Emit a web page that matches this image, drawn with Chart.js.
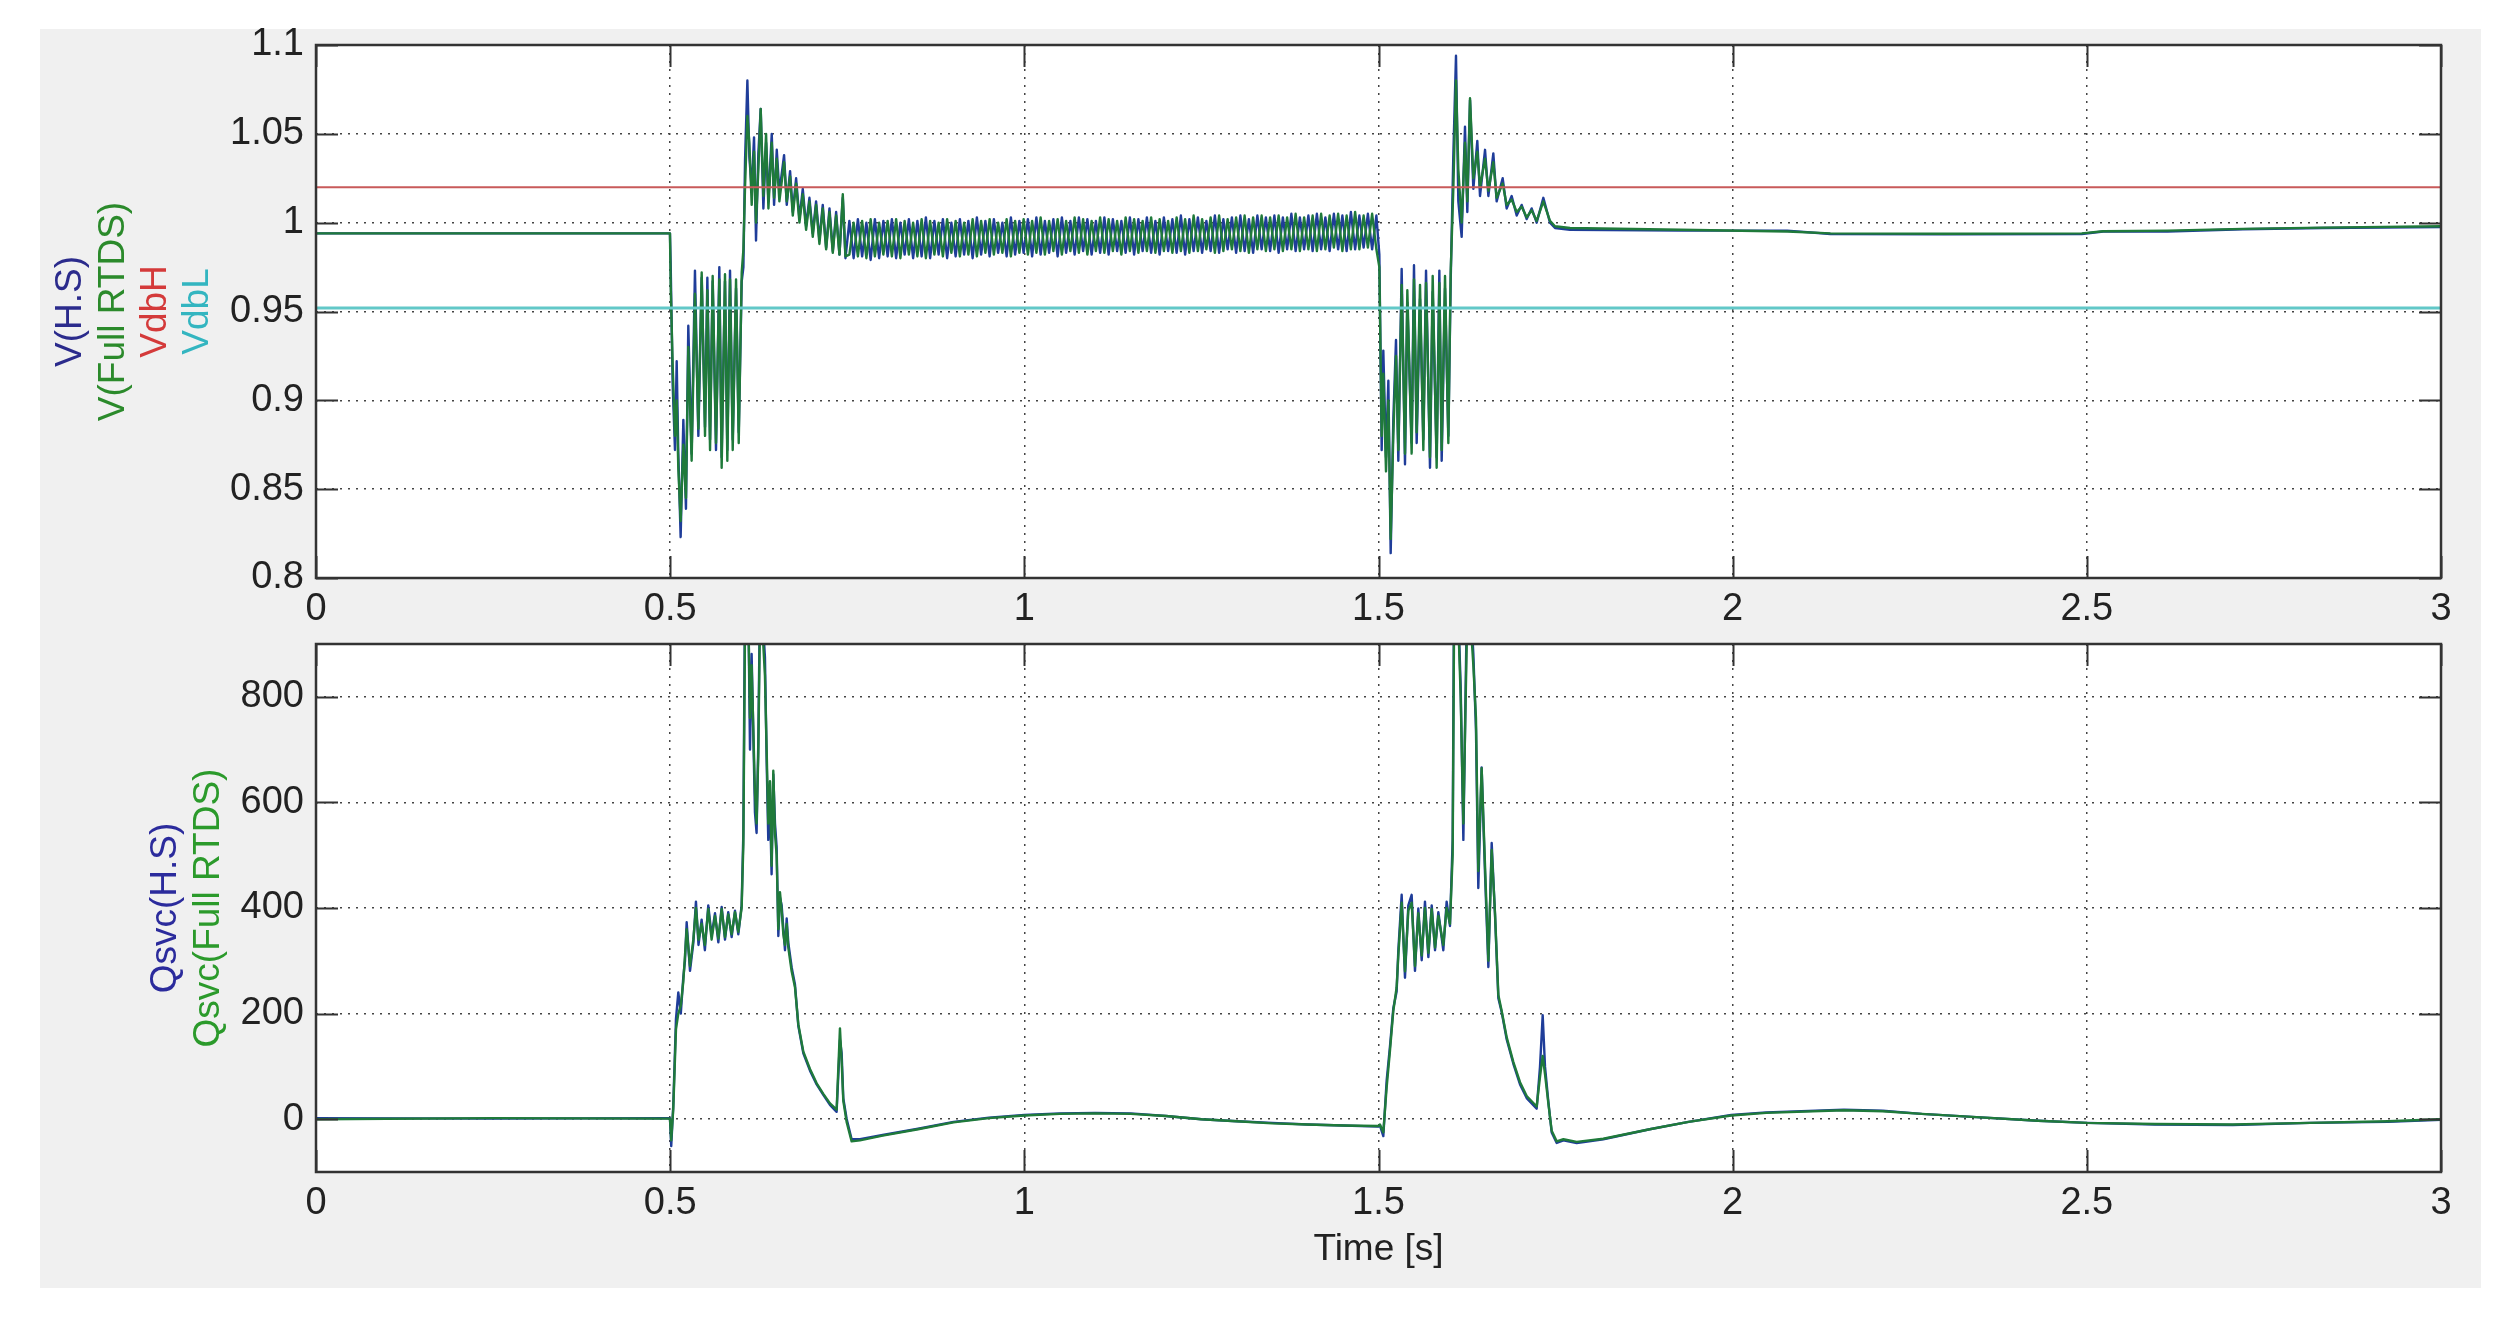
<!DOCTYPE html>
<html><head><meta charset="utf-8">
<script src="https://cdn.jsdelivr.net/npm/chart.js@4.4.1/dist/chart.umd.min.js"></script>
<style>
html,body{margin:0;padding:0;background:#fff;width:2518px;height:1317px;overflow:hidden;}
#panel{position:absolute;left:40px;top:29px;width:2441px;height:1259px;background:#f0f0f0;}
#c1{position:absolute;left:0;top:0;}
#c2{position:absolute;left:0;top:590px;}
</style></head><body>
<div id="panel"></div>
<canvas id="c1" width="2518" height="625"></canvas>
<canvas id="c2" width="2518" height="727"></canvas>
<script>
// ---------------- DATA ----------------
const xTickValues = [0, 0.5, 1, 1.5, 2, 2.5, 3];
const xTickLabels = ['0', '0.5', '1', '1.5', '2', '2.5', '3'];
const vTickValues = [0.8, 0.85, 0.9, 0.95, 1, 1.05, 1.1];
const vTickLabels = ['0.8', '0.85', '0.9', '0.95', '1', '1.05', '1.1'];
const qTickValues = [0, 200, 400, 600, 800];
const qTickLabels = ['0', '200', '400', '600', '800'];
const topAxisTitles = ['V(H.S)', 'V(Full RTDS)', 'VdbH', 'VdbL'];
const bottomAxisTitles = ['Qsvc(H.S)', 'Qsvc(Full RTDS)'];
const xAxisTitle = 'Time [s]';

const VdbH = 1.02;
const VdbL = 0.952;

// Voltage: pre-fault, first fault, first recovery
const timeVa = [0, 0.25, 0.4997, 0.5007, 0.5035, 0.5068, 0.5092, 0.5115, 0.5148, 0.5186,
  0.5223, 0.5256, 0.5303, 0.535, 0.5398, 0.5445, 0.5492, 0.5525, 0.5563, 0.56,
  0.5647, 0.5694, 0.5727, 0.5774, 0.5807, 0.5845, 0.5883, 0.593, 0.5968, 0.601,
  0.6034, 0.6057, 0.609, 0.6118, 0.6151, 0.6184, 0.6212, 0.6245, 0.6278, 0.6316,
  0.6354, 0.6387, 0.6434, 0.6467, 0.6505, 0.6542, 0.6608, 0.6646, 0.6693, 0.6731,
  0.6778, 0.6825, 0.6872, 0.6919, 0.6966, 0.7013, 0.706, 0.7107, 0.7154, 0.7202,
  0.7249, 0.7296, 0.7343, 0.739, 0.7437, 0.7475];
const hsVa = [0.994, 0.994, 0.994, 0.977, 0.909, 0.872, 0.922, 0.870, 0.823, 0.889,
  0.839, 0.942, 0.870, 0.973, 0.880, 0.969, 0.885, 0.969, 0.878, 0.967,
  0.872, 0.975, 0.868, 0.967, 0.872, 0.973, 0.878, 0.963, 0.882, 0.967,
  0.975, 1.035, 1.080, 1.037, 1.019, 1.048, 0.990, 1.039, 1.064, 1.008,
  1.045, 1.012, 1.050, 1.010, 1.041, 1.017, 1.038, 1.010, 1.029, 1.006,
  1.025, 1.002, 1.019, 0.998, 1.014, 0.994, 1.012, 0.990, 1.010, 0.986,
  1.008, 0.984, 1.006, 0.982, 1.014, 0.980];
const rtdsVa = [0.994, 0.994, 0.994, 0.965, 0.920, 0.880, 0.900, 0.862, 0.832, 0.875,
  0.845, 0.930, 0.866, 0.960, 0.884, 0.972, 0.880, 0.962, 0.872, 0.970,
  0.876, 0.968, 0.862, 0.971, 0.866, 0.968, 0.872, 0.968, 0.876, 0.972,
  0.985, 1.020, 1.060, 1.045, 1.010, 1.040, 1.000, 1.030, 1.064, 1.015,
  1.050, 1.008, 1.045, 1.014, 1.036, 1.012, 1.034, 1.012, 1.026, 1.004,
  1.022, 1.000, 1.016, 0.996, 1.012, 0.992, 1.010, 0.988, 1.008, 0.985,
  1.006, 0.983, 1.004, 0.982, 1.016, 0.981];

// Voltage: sustained oscillation band 0.75 - 1.5 s
const timeVb = [0.753, 0.759, 0.765, 0.771, 0.777, 0.783, 0.789, 0.795, 0.801, 0.807,
  0.813, 0.819, 0.825, 0.831, 0.837, 0.843, 0.849, 0.855, 0.861, 0.867,
  0.873, 0.879, 0.885, 0.891, 0.897, 0.903, 0.909, 0.915, 0.921, 0.927,
  0.933, 0.939, 0.945, 0.951, 0.957, 0.963, 0.969, 0.975, 0.981, 0.987,
  0.993, 0.999, 1.005, 1.011, 1.017, 1.023, 1.029, 1.035, 1.041, 1.047,
  1.053, 1.059, 1.065, 1.071, 1.077, 1.083, 1.089, 1.095, 1.101, 1.107,
  1.113, 1.119, 1.125, 1.131, 1.137, 1.143, 1.149, 1.155, 1.161, 1.167,
  1.173, 1.179, 1.185, 1.191, 1.197, 1.203, 1.209, 1.215, 1.221, 1.227,
  1.233, 1.239, 1.245, 1.251, 1.257, 1.263, 1.269, 1.275, 1.281, 1.287,
  1.293, 1.299, 1.305, 1.311, 1.317, 1.323, 1.329, 1.335, 1.341, 1.347,
  1.353, 1.359, 1.365, 1.371, 1.377, 1.383, 1.389, 1.395, 1.401, 1.407,
  1.413, 1.419, 1.425, 1.431, 1.437, 1.443, 1.449, 1.455, 1.461, 1.467,
  1.473, 1.479, 1.485, 1.491, 1.497];
const hsVb = [1.001, 0.980, 1.002, 0.981, 1.000, 0.979, 1.002, 0.980, 1.001, 0.981,
  1.002, 0.980, 1.000, 0.982, 1.002, 0.980, 1.001, 0.981, 1.003, 0.980,
  1.001, 0.982, 1.002, 0.980, 1.000, 0.981, 1.002, 0.982, 1.001, 0.980,
  1.003, 0.982, 1.001, 0.981, 1.002, 0.983, 1.000, 0.981, 1.003, 0.982,
  1.001, 0.983, 1.002, 0.981, 1.003, 0.982, 1.001, 0.983, 1.002, 0.981,
  1.003, 0.983, 1.001, 0.982, 1.003, 0.984, 1.002, 0.982, 1.001, 0.983,
  1.003, 0.982, 1.002, 0.984, 1.001, 0.983, 1.003, 0.982, 1.002, 0.984,
  1.003, 0.983, 1.001, 0.982, 1.003, 0.984, 1.002, 0.983, 1.004, 0.982,
  1.002, 0.984, 1.003, 0.983, 1.001, 0.984, 1.004, 0.983, 1.002, 0.985,
  1.003, 0.983, 1.004, 0.984, 1.002, 0.983, 1.004, 0.985, 1.003, 0.984,
  1.004, 0.983, 1.003, 0.985, 1.005, 0.984, 1.003, 0.985, 1.004, 0.984,
  1.005, 0.985, 1.003, 0.984, 1.005, 0.985, 1.004, 0.984, 1.006, 0.985,
  1.004, 0.986, 1.005, 0.985, 1.004];
const rtdsVb = [0.982, 1.000, 0.981, 1.001, 0.980, 1.002, 0.981, 1.000, 0.982, 1.001,
  0.981, 1.002, 0.980, 1.001, 0.982, 1.000, 0.981, 1.002, 0.980, 1.001,
  0.982, 1.000, 0.981, 1.002, 0.983, 1.001, 0.981, 1.000, 0.982, 1.002,
  0.981, 1.001, 0.983, 1.002, 0.982, 1.000, 0.983, 1.002, 0.981, 1.001,
  0.983, 1.002, 0.982, 1.001, 0.983, 1.003, 0.982, 1.001, 0.984, 1.002,
  0.982, 1.001, 0.984, 1.003, 0.983, 1.002, 0.982, 1.001, 0.984, 1.003,
  0.983, 1.002, 0.984, 1.001, 0.982, 1.003, 0.984, 1.002, 0.983, 1.001,
  0.984, 1.003, 0.983, 1.002, 0.984, 1.001, 0.983, 1.003, 0.984, 1.002,
  0.983, 1.004, 0.984, 1.002, 0.985, 1.003, 0.983, 1.004, 0.984, 1.002,
  0.985, 1.003, 0.984, 1.004, 0.983, 1.003, 0.985, 1.004, 0.984, 1.003,
  0.985, 1.004, 0.984, 1.003, 0.985, 1.005, 0.984, 1.003, 0.985, 1.004,
  0.984, 1.005, 0.985, 1.004, 0.986, 1.005, 0.984, 1.004, 0.985, 1.006,
  0.985, 1.004, 0.986, 1.005, 0.985];

// Voltage: second fault, recovery, steady tail
const timeVc = [1.5012, 1.5045, 1.5068, 1.5106, 1.5139, 1.5172, 1.5209, 1.5247, 1.528, 1.5327,
  1.5374, 1.5407, 1.5468, 1.5501, 1.5539, 1.5586, 1.5633, 1.5671, 1.5727, 1.5765,
  1.5821, 1.5859, 1.5892, 1.5939, 1.5986, 1.6019, 1.6057, 1.6094, 1.6127, 1.6174,
  1.6221, 1.6254, 1.6292, 1.6339, 1.6395, 1.6433, 1.6504, 1.6551, 1.6621, 1.6668,
  1.6753, 1.6809, 1.688, 1.6951, 1.7021, 1.7092, 1.7162, 1.7233, 1.7327, 1.7421,
  1.7492, 1.7704, 1.926, 2.077, 2.138, 2.30, 2.493, 2.523, 2.614, 2.72,
  2.833, 3.0];
const hsVc = [0.982, 0.872, 0.928, 0.868, 0.911, 0.814, 0.889, 0.934, 0.866, 0.974,
  0.864, 0.955, 0.876, 0.976, 0.876, 0.957, 0.878, 0.973, 0.862, 0.961,
  0.868, 0.973, 0.866, 0.963, 0.880, 0.967, 1.039, 1.094, 1.012, 0.992,
  1.054, 1.006, 1.069, 1.019, 1.046, 1.015, 1.041, 1.015, 1.039, 1.012,
  1.025, 1.008, 1.015, 1.004, 1.010, 1.002, 1.008, 1.000, 1.014, 1.000,
  0.997, 0.996, 0.9955, 0.9955, 0.9936, 0.9934, 0.9936, 0.995, 0.995, 0.9963,
  0.997, 0.9975];
const rtdsVc = [0.975, 0.880, 0.915, 0.860, 0.900, 0.822, 0.880, 0.925, 0.872, 0.965,
  0.870, 0.962, 0.870, 0.968, 0.882, 0.965, 0.872, 0.966, 0.868, 0.970,
  0.862, 0.966, 0.872, 0.970, 0.876, 0.972, 1.020, 1.080, 1.030, 1.000,
  1.045, 1.012, 1.070, 1.025, 1.040, 1.020, 1.036, 1.018, 1.034, 1.014,
  1.022, 1.010, 1.013, 1.006, 1.009, 1.003, 1.007, 1.001, 1.012, 1.001,
  0.998, 0.997, 0.996, 0.995, 0.994, 0.9938, 0.994, 0.9952, 0.9955, 0.9965,
  0.9972, 0.998];

// Reactive power: pre-fault, first event, slow swing
const timeQa = [0, 0.25, 0.4997, 0.5015, 0.5044, 0.5082, 0.5115, 0.515, 0.5185, 0.5209,
  0.5233, 0.528, 0.5327, 0.5364, 0.54, 0.5444, 0.549, 0.5538, 0.5585, 0.5633,
  0.568, 0.5727, 0.5774, 0.582, 0.5868, 0.5915, 0.5962, 0.6009, 0.6033, 0.6056,
  0.608, 0.6103, 0.6127, 0.615, 0.6197, 0.622, 0.6244, 0.6267, 0.6291, 0.6314,
  0.6338, 0.6362, 0.6385, 0.6409, 0.6432, 0.6456, 0.648, 0.6503, 0.6527, 0.655,
  0.6574, 0.6598, 0.6621, 0.6645, 0.6668, 0.6715, 0.6762, 0.6809, 0.688, 0.6974,
  0.7068, 0.7162, 0.7256, 0.735, 0.7397, 0.7421, 0.7444, 0.7491, 0.7562, 0.768,
  0.8, 0.85, 0.9, 0.95, 1.0, 1.05, 1.1, 1.15, 1.2, 1.25,
  1.3, 1.35, 1.4, 1.45, 1.4995];
const hsQa = [2, 1, 2, -51, 27, 190, 240, 200, 268, 300,
  373, 281, 334, 412, 330, 378, 320, 405, 347, 390,
  335, 402, 340, 392, 345, 395, 350, 405, 542, 980,
  1050, 980, 700, 881, 581, 542, 712, 980, 1020, 930,
  875, 679, 529, 600, 464, 653, 560, 516, 347, 420,
  405, 360, 320, 380, 334, 288, 255, 177, 125, 92,
  66, 46, 27, 14, 150, 125, 40, 1, -38, -38,
  -30, -18, -5, 3, 8, 11, 12, 11, 6, 0,
  -4, -7, -10, -12, -14];
const rtdsQa = [0, 2, 1, -40, 20, 170, 200, 215, 260, 310,
  360, 290, 340, 400, 340, 370, 330, 398, 340, 385,
  342, 398, 345, 388, 350, 392, 355, 400, 520, 920,
  1000, 960, 760, 860, 620, 560, 690, 940, 1000, 900,
  840, 700, 560, 640, 480, 660, 540, 500, 360, 430,
  395, 350, 330, 370, 325, 280, 250, 180, 128, 95,
  68, 48, 30, 18, 172, 110, 35, -5, -42, -40,
  -31, -19, -6, 2, 7, 10, 11, 10, 6, 0,
  -4, -8, -10, -12, -13];

// Reactive power: second event and tail
const timeQb = [1.5021, 1.5068, 1.5115, 1.5162, 1.5209, 1.5256, 1.528, 1.5327, 1.5374, 1.5421,
  1.5468, 1.5515, 1.5562, 1.561, 1.5656, 1.5704, 1.5751, 1.5798, 1.5845, 1.5915,
  1.5962, 1.6009, 1.6047, 1.6066, 1.61, 1.6127, 1.616, 1.6198, 1.6245, 1.6292,
  1.6339, 1.6376, 1.6409, 1.6456, 1.6504, 1.6551, 1.6598, 1.6645, 1.6692, 1.6739,
  1.681, 1.6904, 1.6998, 1.7092, 1.7233, 1.728, 1.7318, 1.7351, 1.7398, 1.7445,
  1.7516, 1.761, 1.7798, 1.8174, 1.8829, 1.9377, 1.998, 2.0474, 2.157, 2.212,
  2.267, 2.344, 2.431, 2.5005, 2.596, 2.706, 2.815, 2.925, 3.0];
const hsQb = [-12, -32, 73, 138, 210, 242, 320, 425, 268, 405,
  425, 281, 399, 301, 412, 307, 405, 320, 392, 320,
  412, 366, 529, 980, 1060, 960, 820, 529, 950, 1000,
  881, 738, 438, 666, 464, 288, 523, 386, 229, 203,
  151, 105, 66, 40, 20, 99, 197, 99, 33, -25,
  -45, -40, -45, -38, -19, -5, 8, 13, 18, 16,
  10, 4, -3, -7, -10, -11, -7, -5, -1];
const rtdsQb = [-10, -25, 60, 130, 205, 250, 310, 410, 280, 395,
  410, 290, 390, 310, 400, 315, 398, 325, 385, 330,
  400, 370, 500, 920, 1000, 940, 800, 560, 900, 960,
  860, 760, 470, 665, 480, 300, 510, 390, 235, 205,
  155, 108, 70, 44, 24, 80, 120, 85, 30, -22,
  -42, -38, -43, -37, -19, -5, 7, 12, 17, 15,
  10, 4, -3, -7, -9, -10, -7, -4, 0];

// ---------------- HELPERS ----------------
function pairs(times, values) {
  const n = Math.min(times.length, values.length);
  const out = [];
  for (let i = 0; i < n; i++) out.push({ x: times[i], y: values[i] });
  return out;
}
const FONT = '"Liberation Sans", Arial, sans-serif';
const COL_HS = '#1f3d99';
const COL_RTDS = '#1f7a3a';

const framePlugin = {
  id: 'frame',
  beforeDraw(chart) {
    const { ctx, chartArea: a } = chart;
    ctx.save();
    ctx.fillStyle = '#ffffff';
    ctx.fillRect(a.left, a.top, a.right - a.left, a.bottom - a.top);
    ctx.restore();
  },
  afterDraw(chart, args, o) {
    const { ctx, chartArea: a, scales } = chart;
    const x = scales.x, y = scales.y;
    ctx.save();
    ctx.strokeStyle = '#333333';
    ctx.lineWidth = 2;
    const L = 22;
    ctx.beginPath();
    y.ticks.forEach(t => {
      const py = Math.round(y.getPixelForValue(t.value)) + 0.5;
      ctx.moveTo(a.left, py); ctx.lineTo(a.left + L, py);
      ctx.moveTo(a.right, py); ctx.lineTo(a.right - L, py);
    });
    x.ticks.forEach(t => {
      const px = Math.round(x.getPixelForValue(t.value)) + 0.5;
      ctx.moveTo(px, a.bottom); ctx.lineTo(px, a.bottom - L);
      ctx.moveTo(px, a.top); ctx.lineTo(px, a.top + L);
    });
    ctx.stroke();
    ctx.lineWidth = 2.5;
    ctx.strokeRect(a.left, a.top, a.right - a.left, a.bottom - a.top);
    // multi-coloured rotated y-axis titles
    const cy = (a.top + a.bottom) / 2;
    ctx.font = '37px ' + FONT;
    ctx.textAlign = 'center';
    ctx.textBaseline = 'middle';
    (o.titles || []).forEach(tl => {
      ctx.save();
      ctx.translate(tl.x, cy + (tl.dy || 0));
      ctx.rotate(-Math.PI / 2);
      ctx.fillStyle = tl.color;
      ctx.fillText(tl.text, 0, 0);
      ctx.restore();
    });
    if (o.xTitle) {
      ctx.fillStyle = '#222222';
      ctx.fillText(o.xTitle, (a.left + a.right) / 2, o.xTitleY);
    }
    ctx.restore();
  }
};

function makeOptions(cfg) {
  return {
    responsive: false,
    animation: false,
    layout: { padding: { left: 0, right: 77, top: cfg.areaTop, bottom: 0 } },
    plugins: {
      legend: { display: false },
      tooltip: { enabled: false },
      frame: { titles: cfg.titles, xTitle: cfg.xTitle, xTitleY: cfg.xTitleY }
    },
    elements: { point: { radius: 0 }, line: { tension: 0, borderJoinStyle: 'round' } },
    scales: {
      x: {
        type: 'linear', min: 0, max: 3,
        afterBuildTicks: s => { s.ticks = xTickValues.map(v => ({ value: v })); },
        afterFit: s => { s.height = cfg.canvasH - cfg.areaBottom; },
        ticks: {
          autoSkip: false, maxRotation: 0, padding: 9,
          color: '#222222', font: { family: FONT, size: 38 },
          callback: (v, i) => xTickLabels[i]
        },
        grid: { color: '#444444', lineWidth: 1.5, drawTicks: false },
        border: { display: false, dash: [2, 6] }
      },
      y: {
        type: 'linear', min: cfg.yMin, max: cfg.yMax,
        afterBuildTicks: s => { s.ticks = cfg.yTicks.map(v => ({ value: v })); },
        afterFit: s => { s.width = 316; },
        ticks: {
          autoSkip: false, padding: 12,
          color: '#222222', font: { family: FONT, size: 38 },
          callback: (v, i) => cfg.yLabels[i]
        },
        grid: { color: '#444444', lineWidth: 1.5, drawTicks: false },
        border: { display: false, dash: [2, 6] }
      }
    }
  };
}

// ---------------- TOP CHART ----------------
new Chart(document.getElementById('c1'), {
  type: 'line',
  data: {
    datasets: [
      { label: 'VdbL', data: pairs([0, 3], [VdbL, VdbL]), borderColor: '#62c8c8', borderWidth: 3, order: 0, clip: 0 },
      { label: 'VdbH', data: pairs([0, 3], [VdbH, VdbH]), borderColor: '#c85a5a', borderWidth: 2, order: 1, clip: 0 },
      { label: 'V(Full RTDS)', data: pairs(timeVa, rtdsVa).concat(pairs(timeVb, rtdsVb), pairs(timeVc, rtdsVc)), borderColor: COL_RTDS, borderWidth: 2.4, order: 2, clip: 0 },
      { label: 'V(H.S)', data: pairs(timeVa, hsVa).concat(pairs(timeVb, hsVb), pairs(timeVc, hsVc)), borderColor: COL_HS, borderWidth: 2.4, order: 3, clip: 0 }
    ]
  },
  options: makeOptions({
    canvasH: 625, areaTop: 45, areaBottom: 578,
    yMin: 0.8, yMax: 1.1, yTicks: vTickValues, yLabels: vTickLabels,
    titles: [
      { text: topAxisTitles[0], color: '#2b2b8c', x: 71 },
      { text: topAxisTitles[1], color: '#2b8a2b', x: 114 },
      { text: topAxisTitles[2], color: '#d43a3a', x: 156 },
      { text: topAxisTitles[3], color: '#33b5c0', x: 198 }
    ]
  }),
  plugins: [framePlugin]
});

// ---------------- BOTTOM CHART ----------------
new Chart(document.getElementById('c2'), {
  type: 'line',
  data: {
    datasets: [
      { label: 'Qsvc(Full RTDS)', data: pairs(timeQa, rtdsQa).concat(pairs(timeQb, rtdsQb)), borderColor: COL_RTDS, borderWidth: 2.4, order: 0, clip: 0 },
      { label: 'Qsvc(H.S)', data: pairs(timeQa, hsQa).concat(pairs(timeQb, hsQb)), borderColor: COL_HS, borderWidth: 2.4, order: 1, clip: 0 }
    ]
  },
  options: makeOptions({
    canvasH: 727, areaTop: 54, areaBottom: 582,
    yMin: -100, yMax: 900, yTicks: qTickValues, yLabels: qTickLabels,
    titles: [
      { text: bottomAxisTitles[0], color: '#2b2b9c', x: 166 },
      { text: bottomAxisTitles[1], color: '#2b9a2b', x: 209 }
    ],
    xTitle: xAxisTitle, xTitleY: 660
  }),
  plugins: [framePlugin]
});
</script>
</body></html>
